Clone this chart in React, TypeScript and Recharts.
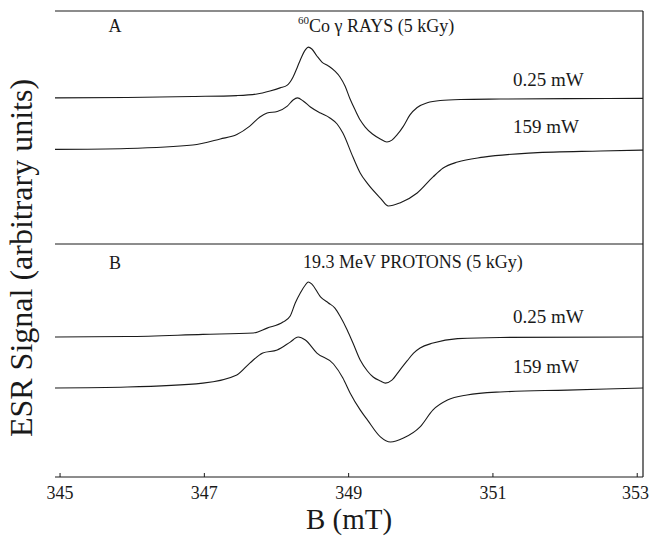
import { LineChart, Line, XAxis, YAxis, ReferenceLine } from 'recharts';

// magnetic field ticks (mT)
const FIELD_TICKS = [345, 347, 349, 351, 353];
const FIELD_DOMAIN = [344.93, 353.08];
const SIGNAL_DOMAIN = [0, 200];

// panel A: 60Co gamma rays, 0.25 mW
const coLowField = [344.93, 345.93, 346.84, 347.45, 347.73, 347.91, 348.05, 348.15, 348.23, 348.29, 348.33, 348.4, 348.44, 348.49, 348.56, 348.63, 348.72, 348.81, 348.88, 348.95, 349.02, 349.09, 349.16, 349.23, 349.33, 349.44, 349.53, 349.6, 349.67, 349.76, 349.85, 349.95, 350.09, 350.27, 350.55, 351.1, 352.03, 353.08];
const coLowSignal = [162.7, 162.9, 163.3, 163.7, 164.4, 165.7, 167.0, 168.2, 171.7, 176.0, 179.0, 183.3, 184.5, 183.7, 180.7, 178.1, 176.4, 174.2, 171.7, 167.8, 162.2, 157.5, 153.2, 150.2, 147.2, 145.1, 143.8, 144.6, 146.8, 150.6, 155.4, 158.6, 160.6, 161.6, 162.0, 162.2, 162.4, 162.5];

// panel A: 60Co gamma rays, 159 mW
const coHighField = [344.93, 345.93, 346.84, 347.22, 347.45, 347.63, 347.77, 347.87, 348.01, 348.15, 348.23, 348.29, 348.37, 348.47, 348.61, 348.74, 348.84, 348.92, 349.06, 349.16, 349.26, 349.44, 349.55, 349.71, 349.95, 350.17, 350.31, 350.51, 350.87, 351.56, 352.49, 353.08];
const coHighSignal = [140.6, 141.0, 142.5, 145.1, 147.0, 150.6, 154.5, 156.2, 156.9, 159.2, 161.8, 162.7, 161.4, 158.8, 156.2, 154.1, 151.5, 147.6, 137.3, 130.5, 126.0, 119.7, 116.3, 117.6, 121.9, 128.8, 132.6, 135.2, 137.3, 139.1, 139.9, 140.3];

// panel B: 19.3 MeV protons, 0.25 mW
const pLowField = [344.93, 345.93, 346.98, 347.68, 347.87, 348.09, 348.19, 348.26, 348.33, 348.4, 348.44, 348.49, 348.61, 348.72, 348.81, 348.88, 348.98, 349.06, 349.16, 349.26, 349.34, 349.44, 349.51, 349.6, 349.71, 349.81, 349.9, 349.99, 350.17, 350.51, 351.1, 353.08];
const pLowSignal = [60.1, 60.3, 61.2, 61.8, 63.9, 66.5, 69.1, 74.7, 79.0, 82.4, 83.7, 82.8, 77.3, 74.7, 72.5, 69.1, 63.1, 57.5, 50.2, 45.5, 42.9, 41.2, 40.3, 41.6, 45.9, 49.8, 53.2, 55.4, 57.5, 59.4, 59.9, 60.1];

// panel B: 19.3 MeV protons, 159 mW
const pHighField = [344.93, 345.93, 346.98, 347.45, 347.63, 347.81, 348.01, 348.19, 348.3, 348.4, 348.56, 348.79, 348.92, 349.02, 349.16, 349.26, 349.44, 349.58, 349.76, 349.99, 350.17, 350.37, 350.64, 351.1, 352.03, 353.08];
const pHighSignal = [38.2, 38.6, 40.3, 43.8, 48.9, 53.2, 54.5, 57.9, 60.1, 58.8, 53.2, 48.5, 42.5, 36.1, 28.8, 24.5, 17.2, 15.0, 16.7, 21.5, 28.8, 33.0, 35.2, 36.5, 37.3, 38.2];

const PANEL_SPLIT = 100;

const toPoints = (field: number[], signal: number[]) =>
  field.map((b, i) => ({ b, s: signal[i] }));

const SERIES = [
  { key: 'co-low', data: toPoints(coLowField, coLowSignal) },
  { key: 'co-high', data: toPoints(coHighField, coHighSignal) },
  { key: 'p-low', data: toPoints(pLowField, pLowSignal) },
  { key: 'p-high', data: toPoints(pHighField, pHighSignal) },
];

const INK = '#1a1a1a';
const SERIF = '"Liberation Serif", "Times New Roman", serif';

export default function App() {
  return (
    <div
      style={{
        position: 'absolute',
        left: 0,
        top: 0,
        width: 649,
        height: 537,
        background: '#fff',
        fontFamily: SERIF,
      }}
    >
      <LineChart width={649} height={537} margin={{ top: 11, right: 6, bottom: 30, left: 55 }}>
        <XAxis
          type="number"
          dataKey="b"
          domain={FIELD_DOMAIN}
          ticks={FIELD_TICKS}
          allowDataOverflow
          height={30}
          stroke={INK}
          tickSize={-4}
          tickMargin={13}
          tick={{ fill: INK, fontSize: 18, fontFamily: SERIF }}
        />
        <YAxis
          type="number"
          domain={SIGNAL_DOMAIN}
          allowDataOverflow
          width={0}
          tick={false}
          tickLine={false}
          stroke={INK}
        />
        {/* frame: top and right edges, plus the panel divider */}
        <ReferenceLine y={SIGNAL_DOMAIN[1]} stroke={INK} strokeWidth={1.2} />
        <ReferenceLine x={FIELD_DOMAIN[1]} stroke={INK} strokeWidth={1.2} />
        <ReferenceLine y={PANEL_SPLIT} stroke={INK} strokeWidth={1} />
        {SERIES.map(({ key, data }) => (
          <Line
            key={key}
            data={data}
            dataKey="s"
            type="monotone"
            stroke={INK}
            strokeWidth={1.1}
            dot={false}
            activeDot={false}
            isAnimationActive={false}
          />
        ))}
      </LineChart>
      <svg
        width={649}
        height={537}
        style={{ position: 'absolute', left: 0, top: 0, pointerEvents: 'none', fontFamily: SERIF }}
        fill={INK}
      >
        <text x={115} y={32} fontSize={18} textAnchor="middle">A</text>
        <text x={298} y={32} fontSize={18}>
          <tspan fontSize={11} dy={-8}>60</tspan>
          <tspan dy={8}>Co γ RAYS (5 kGy)</tspan>
        </text>
        <text x={513} y={86} fontSize={19}>0.25 mW</text>
        <text x={513} y={133} fontSize={19}>159 mW</text>
        <text x={115} y={269} fontSize={18} textAnchor="middle">B</text>
        <text x={303} y={268} fontSize={18}>19.3 MeV PROTONS (5 kGy)</text>
        <text x={513} y={323} fontSize={19}>0.25 mW</text>
        <text x={513} y={373} fontSize={19}>159 mW</text>
        <text x={349} y={529} fontSize={29} textAnchor="middle">B (mT)</text>
        <text x={32} y={258} fontSize={32} textAnchor="middle" transform="rotate(-90, 32, 258)">
          ESR Signal (arbitrary units)
        </text>
      </svg>
    </div>
  );
}
